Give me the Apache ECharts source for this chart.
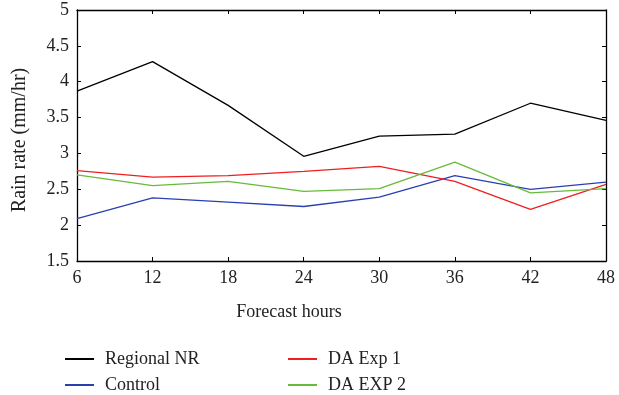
<!DOCTYPE html>
<html>
<head>
<meta charset="utf-8">
<script src="https://cdn.jsdelivr.net/npm/echarts@6/dist/echarts.min.js"></script>
<style>
  html, body { margin: 0; padding: 0; background: #fff; }
  #chart { width: 619px; height: 395px; }
</style>
</head>
<body>
<div id="chart"></div>
<script>
const hours = [6, 12, 18, 24, 30, 36, 42, 48]
const regionalNR = [3.87, 4.28, 3.67, 2.96, 3.24, 3.27, 3.70, 3.46]
const control = [2.09, 2.38, 2.32, 2.26, 2.39, 2.69, 2.50, 2.60]
const daExp1 = [2.76, 2.67, 2.69, 2.75, 2.82, 2.61, 2.22, 2.57]
const daExp2 = [2.70, 2.55, 2.61, 2.47, 2.51, 2.88, 2.45, 2.51]

const FONT = '"Liberation Serif", "DejaVu Serif", serif'
const TEXT = '#222'

const chart = echarts.init(document.getElementById('chart'))

function makeSeries(name, values, color) {
  return {
    name,
    type: 'line',
    data: hours.map((h, i) => [h, values[i]]),
    symbol: 'none',
    lineStyle: { color, width: 1.3 },
    itemStyle: { color },
    animation: false
  }
}

const axisLine = { show: true, lineStyle: { color: '#000', width: 1.3 } }
const axisTick = { show: true, inside: true, length: 4, lineStyle: { color: '#000', width: 1 } }
const labelStyle = { color: TEXT, fontFamily: FONT, fontSize: 18 }

const legendCommon = {
  orient: 'vertical',
  top: 350,
  height: 45,
  padding: 0,
  itemWidth: 29,
  itemHeight: 14,
  itemGap: 8,
  itemStyle: { opacity: 0 },
  textStyle: { color: TEXT, fontFamily: FONT, fontSize: 18, padding: [0, 0, 0, 6] }
}

chart.setOption({
  backgroundColor: '#fff',
  animation: false,
  grid: { left: 77, right: 13, top: 10, bottom: 134 },
  xAxis: [
    {
      type: 'value', min: 6, max: 48, interval: 6,
      axisLine, axisTick,
      axisLabel: { ...labelStyle, margin: 8 },
      splitLine: { show: false }
    },
    {
      type: 'value', position: 'top', min: 6, max: 48, interval: 6,
      axisLine, axisTick, axisLabel: { show: false }, splitLine: { show: false }
    }
  ],
  yAxis: [
    {
      type: 'value', min: 1.5, max: 5, interval: 0.5,
      axisLine, axisTick,
      axisLabel: { ...labelStyle, margin: 8 },
      splitLine: { show: false }
    },
    {
      type: 'value', position: 'right', min: 1.5, max: 5, interval: 0.5,
      axisLine, axisTick, axisLabel: { show: false }, splitLine: { show: false }
    }
  ],
  legend: [
    { ...legendCommon, left: 64, data: ['Regional NR', 'Control'] },
    { ...legendCommon, left: 287, data: ['DA Exp 1', 'DA EXP 2'] }
  ],
  graphic: [
    {
      type: 'text', x: 289, y: 312,
      style: { text: 'Forecast hours', fill: TEXT, font: '18px ' + FONT, align: 'center', verticalAlign: 'middle' }
    },
    {
      type: 'text', x: 20, y: 140, rotation: Math.PI / 2,
      style: { text: 'Rain rate (mm/hr)', fill: TEXT, font: '20px ' + FONT, align: 'center', verticalAlign: 'middle' }
    }
  ],
  series: [
    makeSeries('Regional NR', regionalNR, '#000000'),
    makeSeries('Control', control, '#2840b0'),
    makeSeries('DA Exp 1', daExp1, '#f01e1e'),
    makeSeries('DA EXP 2', daExp2, '#66bb3a')
  ]
})
</script>
</body>
</html>
